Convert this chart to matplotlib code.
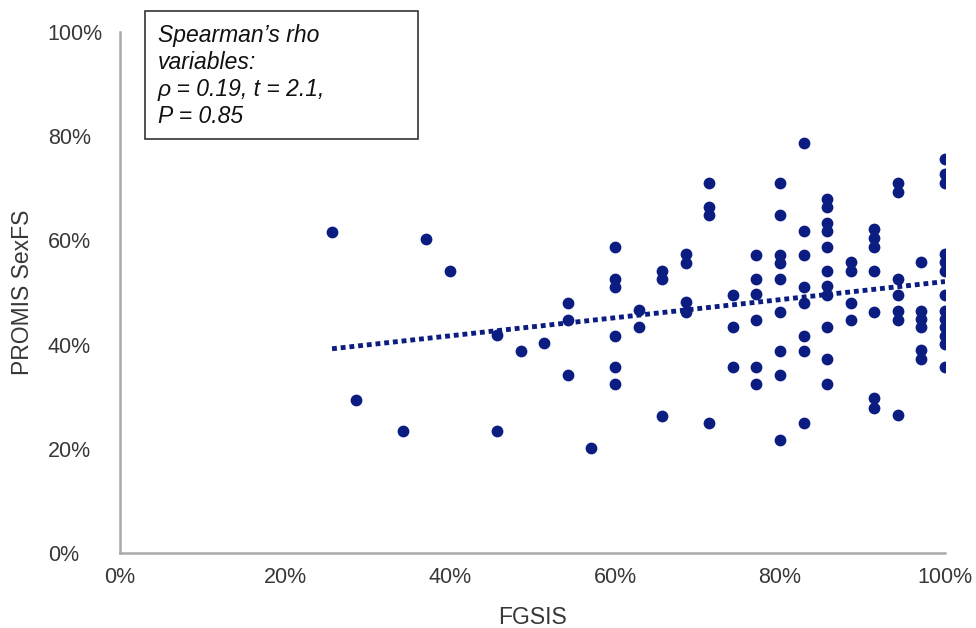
import matplotlib
matplotlib.use("Agg")
import matplotlib.pyplot as plt
from matplotlib.patches import Rectangle
from matplotlib.ticker import FuncFormatter

# FGSIS score column (index k of 35 steps) and PROMIS SexFS values (%)
cols = {
    9: [61.7],
    10: [29.4],
    12: [23.4],
    13: [60.2],
    14: [54.1],
    16: [41.9, 23.4],
    17: [38.7],
    18: [40.3],
    19: [47.9, 44.8, 34.1],
    20: [20.2],
    21: [58.8, 52.6, 51.0, 41.7, 35.7, 32.5],
    22: [46.7, 43.3],
    23: [54.2, 52.5, 26.3],
    24: [57.4, 55.6, 48.1, 46.3],
    25: [71.1, 66.5, 64.8, 24.9],
    26: [49.6, 43.3, 35.7],
    27: [57.2, 52.6, 49.7, 44.8, 35.7, 32.5],
    28: [71.1, 64.8, 57.2, 55.6, 52.6, 46.3, 38.8, 34.1, 21.7],
    29: [78.7, 61.8, 57.2, 51.1, 48.0, 41.7, 38.8, 24.9],
    30: [68.0, 66.5, 63.4, 61.8, 58.8, 54.2, 51.3, 49.6, 43.3, 37.3, 32.5],
    31: [55.8, 54.2, 48.0, 44.8],
    32: [62.1, 60.4, 58.8, 54.2, 46.3, 29.8, 27.9],
    33: [71.1, 69.3, 52.6, 49.6, 46.5, 44.8, 26.4],
    34: [55.8, 46.5, 44.9, 43.3, 38.9, 37.3],
    35: [75.7, 72.7, 71.1, 57.4, 55.8, 54.2, 49.6, 46.5, 44.9, 43.3, 41.7, 40.2, 35.7],
}
fgsis = []
sexfs = []
for k, vals in cols.items():
    for v in vals:
        fgsis.append(k / 35 * 100)
        sexfs.append(v)

trend_x = [25.7, 100.0]
trend_y = [39.2, 52.1]

navy = "#0c1d82"
grey = "#a9a9a9"
txt = "#383838"

plt.rcParams["font.family"] = ["Liberation Sans", "DejaVu Sans"]

fig = plt.figure(figsize=(9.76, 6.28), dpi=100)
ax = fig.add_axes([120 / 976, 1 - 553 / 628, 825 / 976, 521 / 628])

ax.scatter(fgsis, sexfs, s=72, color=navy, zorder=3, linewidths=0)
ax.plot(trend_x, trend_y, color=navy, lw=3.5, linestyle=(0, (1, 0.8)),
        solid_capstyle="butt", dash_capstyle="butt", zorder=2)

ax.set_xlim(0, 100)
ax.set_ylim(0, 100)
ax.set_xticks(range(0, 101, 20))
ax.set_yticks(range(0, 101, 20))
pct = FuncFormatter(lambda v, p: "%d%%" % v)
ax.xaxis.set_major_formatter(pct)
ax.yaxis.set_major_formatter(pct)
ax.tick_params(length=0, labelsize=15.5, colors=txt)
ax.tick_params(axis="x", pad=10)
ax.tick_params(axis="y", pad=52)
for lbl in ax.get_yticklabels():
    lbl.set_ha("left")
for s in ["top", "right"]:
    ax.spines[s].set_visible(False)
for s in ["left", "bottom"]:
    ax.spines[s].set_color(grey)
    ax.spines[s].set_linewidth(1.8)

ax.set_xlabel("FGSIS", fontsize=16.5, color=txt)
ax.set_ylabel("PROMIS SexFS", fontsize=16.5, color=txt)
ax.xaxis.set_label_coords(0.5006, -0.102)
ax.yaxis.set_label_coords(-0.104, 0.5)

fig.patches.append(Rectangle((145 / 976, 1 - 139 / 628), 273 / 976, 128 / 628,
                             transform=fig.transFigure, fill=False,
                             edgecolor="#333333", lw=1.2))
fig.text(158 / 976, 1 - 24 / 628,
         "Spearman\u2019s rho\nvariables:\n\u03c1 = 0.19, t = 2.1,\nP = 0.85",
         fontsize=16.5, style="italic", va="top", ha="left",
         linespacing=1.23, color="#111111")

fig.savefig("out.png", dpi=100)
